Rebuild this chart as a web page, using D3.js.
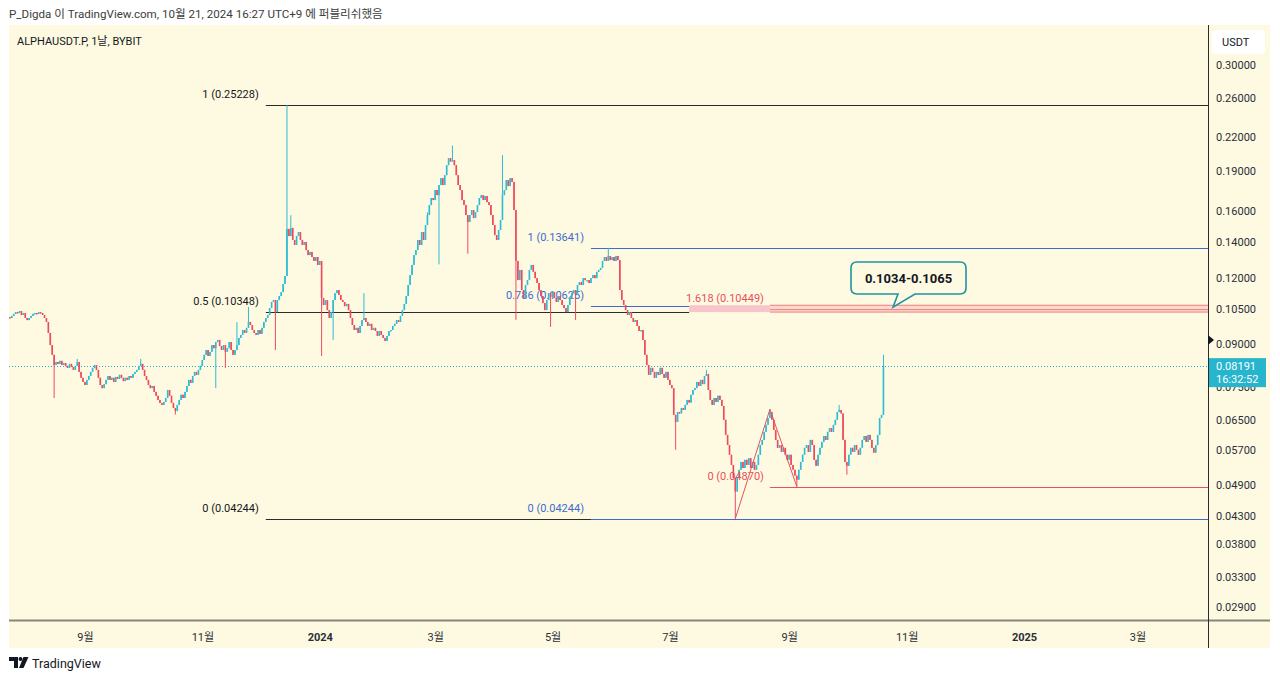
<!DOCTYPE html>
<html>
<head>
<meta charset="utf-8">
<script src="https://cdn.jsdelivr.net/npm/d3@7"></script>
<style>
  body { margin: 0; background: #ffffff; }
  text { font-family: Roboto, "Noto Sans CJK KR", sans-serif; }
</style>
</head>
<body>
<svg id="chart" width="1280" height="681"></svg>
<script>
// daily closes, ALPHAUSDT.P (BYBIT)
var firstOpen = 0.1012;
var jul2023 = [0.1008, 0.1017, 0.1026, 0.1034, 0.1030, 0.1039, 0.1021];
var aug2023 = [0.1030, 0.1008, 0.0999, 0.1008, 0.1017, 0.1026, 0.1030, 0.1026, 0.1034, 0.1030,
               0.1021, 0.1008, 0.0991, 0.0945, 0.0897, 0.0860, 0.0823, 0.0834, 0.0827, 0.0838,
               0.0823, 0.0830, 0.0820, 0.0813, 0.0827, 0.0816, 0.0806, 0.0820, 0.0834, 0.0799, 0.0779];
var sep2023 = [0.0765, 0.0755, 0.0772, 0.0785, 0.0799, 0.0813, 0.0823, 0.0806, 0.0779, 0.0755,
               0.0745, 0.0758, 0.0772, 0.0785, 0.0772, 0.0779, 0.0765, 0.0782, 0.0775, 0.0789,
               0.0779, 0.0768, 0.0779, 0.0772, 0.0785, 0.0779, 0.0792, 0.0799, 0.0806, 0.0820];
var oct2023 = [0.0827, 0.0806, 0.0785, 0.0772, 0.0755, 0.0745, 0.0752, 0.0733, 0.0721, 0.0708,
               0.0699, 0.0693, 0.0702, 0.0714, 0.0739, 0.0721, 0.0699, 0.0684, 0.0675, 0.0693,
               0.0708, 0.0724, 0.0714, 0.0733, 0.0752, 0.0772, 0.0762, 0.0785, 0.0799, 0.0789, 0.0806];
var nov2023 = [0.0820, 0.0841, 0.0860, 0.0878, 0.0856, 0.0871, 0.0897, 0.0885, 0.0909, 0.0917,
               0.0893, 0.0878, 0.0897, 0.0871, 0.0885, 0.0909, 0.0878, 0.0860, 0.0878, 0.0897,
               0.0925, 0.0937, 0.0957, 0.0945, 0.0966, 0.0991, 0.0978, 0.0957, 0.0945, 0.0937];
var dec2023 = [0.0957, 0.0941, 0.0966, 0.0991, 0.1008, 0.1021, 0.1052, 0.1080, 0.1089, 0.1034,
               0.1089, 0.1108, 0.1127, 0.1167, 0.1208, 0.1480, 0.1435, 0.1486, 0.1411, 0.1381,
               0.1435, 0.1460, 0.1411, 0.1381, 0.1399, 0.1351, 0.1322, 0.1340, 0.1311, 0.1289, 0.1311];
var jan2024 = [0.1267, 0.1289, 0.1099, 0.1066, 0.1089, 0.1043, 0.1008, 0.1034, 0.1089, 0.1122,
               0.1137, 0.1113, 0.1089, 0.1080, 0.1061, 0.1071, 0.1043, 0.1008, 0.0978, 0.0957,
               0.0966, 0.0945, 0.0974, 0.0999, 0.1008, 0.0991, 0.0974, 0.0983, 0.0957, 0.0966, 0.0953];
var feb2024 = [0.0933, 0.0953, 0.0937, 0.0925, 0.0913, 0.0933, 0.0953, 0.0957, 0.0974, 0.0983,
               0.0999, 0.0991, 0.1017, 0.1043, 0.1071, 0.1108, 0.1162, 0.1213, 0.1267, 0.1322,
               0.1351, 0.1411, 0.1381, 0.1460, 0.1411, 0.1505, 0.1571, 0.1640, 0.1691];
var mar2024 = [0.1676, 0.1750, 0.1712, 0.1788, 0.1842, 0.1788, 0.1866, 0.1948, 0.2008, 0.1978,
               0.1991, 0.1948, 0.1866, 0.1788, 0.1750, 0.1676, 0.1640, 0.1571, 0.1525, 0.1571,
               0.1605, 0.1551, 0.1592, 0.1640, 0.1691, 0.1712, 0.1676, 0.1705, 0.1661, 0.1640, 0.1571];
var apr2024 = [0.1505, 0.1441, 0.1411, 0.1473, 0.1538, 0.1712, 0.1750, 0.1827, 0.1780, 0.1842,
               0.1812, 0.1605, 0.1289, 0.1187, 0.1240, 0.1137, 0.1099, 0.1162, 0.1187, 0.1240,
               0.1267, 0.1230, 0.1197, 0.1172, 0.1137, 0.1108, 0.1075, 0.1043, 0.1089, 0.1122];
var may2024 = [0.1104, 0.1127, 0.1099, 0.1080, 0.1108, 0.1089, 0.1066, 0.1052, 0.1034, 0.1066,
               0.1099, 0.1122, 0.1137, 0.1113, 0.1162, 0.1177, 0.1162, 0.1197, 0.1187, 0.1187,
               0.1172, 0.1197, 0.1213, 0.1197, 0.1230, 0.1240, 0.1251, 0.1289, 0.1311, 0.1289, 0.1317];
var jun2024 = [0.1294, 0.1311, 0.1289, 0.1317, 0.1294, 0.1137, 0.1089, 0.1066, 0.1043, 0.1021,
               0.1034, 0.1008, 0.0991, 0.0999, 0.0974, 0.0953, 0.0957, 0.0917, 0.0860, 0.0823,
               0.0789, 0.0813, 0.0799, 0.0779, 0.0799, 0.0789, 0.0813, 0.0792, 0.0779, 0.0799];
var jul2024 = [0.0772, 0.0755, 0.0745, 0.0664, 0.0644, 0.0672, 0.0668, 0.0684, 0.0678, 0.0693,
               0.0708, 0.0700, 0.0724, 0.0739, 0.0745, 0.0765, 0.0752, 0.0772, 0.0758, 0.0785,
               0.0792, 0.0739, 0.0708, 0.0693, 0.0714, 0.0702, 0.0721, 0.0708, 0.0690, 0.0650, 0.0609];
var aug2024 = [0.0583, 0.0559, 0.0535, 0.0506, 0.0477, 0.0506, 0.0524, 0.0542, 0.0528, 0.0547,
               0.0535, 0.0551, 0.0528, 0.0542, 0.0524, 0.0535, 0.0559, 0.0583, 0.0596, 0.0617,
               0.0636, 0.0655, 0.0672, 0.0650, 0.0622, 0.0596, 0.0576, 0.0583, 0.0566, 0.0576, 0.0559];
var sep2024 = [0.0547, 0.0559, 0.0535, 0.0524, 0.0511, 0.0502, 0.0524, 0.0542, 0.0559, 0.0576,
               0.0583, 0.0566, 0.0596, 0.0583, 0.0547, 0.0533, 0.0559, 0.0576, 0.0591, 0.0606,
               0.0596, 0.0617, 0.0627, 0.0617, 0.0636, 0.0650, 0.0672, 0.0678, 0.0668, 0.0596];
var oct2024 = [0.0542, 0.0533, 0.0559, 0.0576, 0.0566, 0.0583, 0.0571, 0.0559, 0.0576, 0.0596,
               0.0606, 0.0591, 0.0609, 0.0596, 0.0576, 0.0564, 0.0583, 0.0609, 0.0655, 0.0664, 0.08191];

// long wicks visible on the chart
var wickHighs = [["2023-08-29", 0.0845], ["2023-10-01", 0.0845], ["2023-11-20", 0.0990],
                 ["2023-11-26", 0.1057], ["2023-12-16", 0.25228], ["2023-12-18", 0.1570],
                 ["2024-01-25", 0.1122], ["2024-02-27", 0.1590], ["2024-03-11", 0.2119],
                 ["2024-04-06", 0.2034], ["2024-05-31", 0.13641], ["2024-07-21", 0.0806],
                 ["2024-08-23", 0.06803], ["2024-09-28", 0.0693], ["2024-10-21", 0.0860]];
var wickLows = [["2023-08-17", 0.0714], ["2023-10-19", 0.0665], ["2023-11-09", 0.0745],
                ["2023-11-14", 0.0813], ["2023-12-10", 0.0878], ["2024-01-03", 0.0856],
                ["2024-01-09", 0.0917], ["2024-03-04", 0.1270], ["2024-03-19", 0.1330],
                ["2024-04-13", 0.1000], ["2024-05-01", 0.0970], ["2024-05-14", 0.0999],
                ["2024-07-05", 0.0571], ["2024-08-05", 0.04244], ["2024-09-06", 0.0487],
                ["2024-10-02", 0.0513]];

var yTicks = [0.30, 0.26, 0.22, 0.19, 0.16, 0.14, 0.12, 0.105, 0.09, 0.075, 0.065, 0.057, 0.049, 0.043, 0.038, 0.033, 0.029];
var xTickDates = ["2023-09-01", "2023-11-01", "2024-01-01", "2024-03-01", "2024-05-01",
                  "2024-07-01", "2024-09-01", "2024-11-01", "2025-01-01", "2025-03-01"];
var xTickLabels = ["9월", "11월", "2024", "3월", "5월", "7월", "9월", "11월", "2025", "3월"];

// fib drawings: [label, price, start date, end date or null for the right edge]
var fibBlack = [["1 (0.25228)", 0.25228, "2023-12-05", null],
                ["0.5 (0.10348)", 0.10348, "2023-12-05", "2024-07-12"],
                ["0 (0.04244)", 0.04244, "2023-12-05", "2024-05-22"]];
var fibBlue = [["1 (0.13641)", 0.13641, "2024-05-22", null],
               ["0.786 (0.10625)", 0.10625, "2024-05-22", "2024-07-12"],
               ["0 (0.04244)", 0.04244, "2024-05-22", null]];
var trendPoints = [["2024-08-05", 0.04244], ["2024-08-23", 0.06803], ["2024-09-06", 0.0487]];
var zoneLow = 0.1034, zoneHigh = 0.1065, extLevel = 0.10449;
var lastPrice = 0.08191, lastTime = "16:32:52";

var parse = d3.utcParse("%Y-%m-%d");
var fmtDay = d3.utcFormat("%Y-%m-%d");

var paneLeft = 9, paneRight = 1208, paneTop = 25, paneBottom = 620;
var upColor = "#2cbcd3", downColor = "#ee4a5d";
var blue = "#3d6bd2", red = "#e8505e", ink = "#131722";

var svg = d3.select("#chart");

var x = d3.scaleUtc()
  .domain([parse("2023-09-01"), parse("2025-01-01")])
  .range([83, 1022]);
var y = d3.scaleLog()
  .domain([0.30, 0.029])
  .range([65, 607]);

// candles
var closes = [].concat(jul2023, aug2023, sep2023, oct2023, nov2023, dec2023, jan2024, feb2024,
  mar2024, apr2024, may2024, jun2024, jul2024, aug2024, sep2024, oct2024);
var start = parse("2023-07-25");
var candles = closes.map(function(c, i) {
  var open = i === 0 ? firstOpen : closes[i - 1];
  return { date: d3.utcDay.offset(start, i), open: open, close: c,
           high: Math.max(open, c), low: Math.min(open, c) };
});
var byDay = {};
candles.forEach(function(d) { byDay[fmtDay(d.date)] = d; });
wickHighs.forEach(function(w) { if (byDay[w[0]]) byDay[w[0]].high = w[1]; });
wickLows.forEach(function(w) { if (byDay[w[0]]) byDay[w[0]].low = w[1]; });

// page header
svg.append("text").attr("x", 9).attr("y", 18)
  .attr("font-size", "11.6px").attr("fill", "#3c3c3c")
  .text("P_Digda 이 TradingView.com, 10월 21, 2024 16:27 UTC+9 에 퍼블리쉬했음");

// chart background
svg.append("rect").attr("x", 9).attr("y", 25).attr("width", 1261).attr("height", 623)
  .attr("fill", "#fefae1");

svg.append("text").attr("x", 17).attr("y", 45)
  .attr("font-size", "11px").attr("fill", ink)
  .text("ALPHAUSDT.P, 1날, BYBIT");

svg.append("defs").append("clipPath").attr("id", "pane")
  .append("rect").attr("x", paneLeft).attr("y", paneTop)
  .attr("width", paneRight - paneLeft).attr("height", paneBottom - paneTop);

var plot = svg.append("g").attr("clip-path", "url(#pane)");

// last price dotted line
plot.append("line")
  .attr("x1", paneLeft).attr("x2", paneRight)
  .attr("y1", Math.round(y(lastPrice)) + 0.5).attr("y2", Math.round(y(lastPrice)) + 0.5)
  .attr("stroke", "#2ba9c2").attr("stroke-width", 1).attr("stroke-dasharray", "1,2");

// black fib retracement
fibBlack.forEach(function(f) {
  var yy = Math.round(y(f[1])) + 0.5;
  var x1 = x(parse(f[2])), x2 = f[3] ? x(parse(f[3])) : paneRight;
  plot.append("line").attr("x1", x1).attr("x2", x2).attr("y1", yy).attr("y2", yy)
    .attr("stroke", "#2b2b2b").attr("stroke-width", 1);
  plot.append("text").attr("x", x1 - 7).attr("y", yy - 8)
    .attr("text-anchor", "end").attr("font-size", "11px").attr("fill", ink).text(f[0]);
});

// pink target zone
var zStart = x(parse("2024-07-12")), zMid = x(parse("2024-08-23"));
plot.append("rect").attr("x", zStart).attr("width", zMid - zStart)
  .attr("y", y(zoneHigh)).attr("height", y(zoneLow) - y(zoneHigh))
  .attr("fill", "#f8c6ca");
plot.append("rect").attr("x", zMid).attr("width", paneRight - zMid)
  .attr("y", y(zoneHigh)).attr("height", y(zoneLow) - y(zoneHigh))
  .attr("fill", "rgba(242,80,95,0.18)");
[zoneHigh, extLevel, zoneLow].forEach(function(v) {
  plot.append("line").attr("x1", zMid).attr("x2", paneRight)
    .attr("y1", y(v)).attr("y2", y(v))
    .attr("stroke", "#f07a86").attr("stroke-width", 1);
});
plot.append("text").attr("x", zMid - 6).attr("y", y(extLevel) - 8)
  .attr("text-anchor", "end").attr("font-size", "11px").attr("fill", red)
  .text("1.618 (0.10449)");

// blue fib retracement
fibBlue.forEach(function(f) {
  var yy = Math.round(y(f[1])) + 0.5;
  var x1 = x(parse(f[2])), x2 = f[3] ? x(parse(f[3])) : paneRight;
  plot.append("line").attr("x1", x1).attr("x2", x2).attr("y1", yy).attr("y2", yy)
    .attr("stroke", blue).attr("stroke-width", 1);
  plot.append("text").attr("x", x1 - 7).attr("y", yy - 8)
    .attr("text-anchor", "end").attr("font-size", "11px").attr("fill", blue).text(f[0]);
});

// red trend-based extension
var p2x = x(parse(trendPoints[1][0]));
plot.append("line").attr("x1", p2x).attr("x2", paneRight)
  .attr("y1", Math.round(y(trendPoints[2][1])) + 0.5).attr("y2", Math.round(y(trendPoints[2][1])) + 0.5)
  .attr("stroke", red).attr("stroke-width", 1);

// candles
var bodyW = 1.6;
var cg = plot.append("g");
cg.selectAll(".wick").data(candles).enter().append("line")
  .attr("class", "wick")
  .attr("x1", function(d) { return x(d.date); })
  .attr("x2", function(d) { return x(d.date); })
  .attr("y1", function(d) { return y(d.high); })
  .attr("y2", function(d) { return y(d.low); })
  .attr("stroke", function(d) { return d.close >= d.open ? upColor : downColor; })
  .attr("stroke-width", 1);
cg.selectAll(".body").data(candles).enter().append("rect")
  .attr("class", "body")
  .attr("x", function(d) { return x(d.date) - bodyW / 2; })
  .attr("width", bodyW)
  .attr("y", function(d) { return y(Math.max(d.open, d.close)); })
  .attr("height", function(d) { return Math.max(1.5, y(Math.min(d.open, d.close)) - y(Math.max(d.open, d.close))); })
  .attr("fill", function(d) { return d.close >= d.open ? upColor : downColor; });

// trend lines over the candles
plot.append("path")
  .datum(trendPoints)
  .attr("d", d3.line()
    .x(function(d) { return x(parse(d[0])); })
    .y(function(d) { return y(d[1]); }))
  .attr("fill", "none").attr("stroke", red).attr("stroke-width", 1);
plot.append("text").attr("x", p2x - 6).attr("y", y(trendPoints[2][1]) - 7)
  .attr("text-anchor", "end").attr("font-size", "11px").attr("fill", red)
  .text("0 (0.04870)");

// callout
var tipX = 893, tipY = y(zoneHigh) + 2;
var bx = 851, by = 262, bw = 115, bh = 32, r = 6;
var callout = "M" + (bx + r) + "," + by +
  " H" + (bx + bw - r) + " Q" + (bx + bw) + "," + by + " " + (bx + bw) + "," + (by + r) +
  " V" + (by + bh - r) + " Q" + (bx + bw) + "," + (by + bh) + " " + (bx + bw - r) + "," + (by + bh) +
  " H915 L" + tipX + "," + tipY + " L898," + (by + bh) +
  " H" + (bx + r) + " Q" + bx + "," + (by + bh) + " " + bx + "," + (by + bh - r) +
  " V" + (by + r) + " Q" + bx + "," + by + " " + (bx + r) + "," + by + " Z";
svg.append("path").attr("d", callout)
  .attr("fill", "#fefae1").attr("stroke", "#1f93a4").attr("stroke-width", 1.6);
svg.append("text").attr("x", bx + bw / 2).attr("y", by + 21)
  .attr("text-anchor", "middle").attr("font-size", "13px").attr("font-weight", "bold")
  .attr("fill", ink).text("0.1034-0.1065");

// axes frame
svg.append("line").attr("x1", 9).attr("x2", 1270).attr("y1", 620.5).attr("y2", 620.5)
  .attr("stroke", "#85857a").attr("stroke-width", 2);
svg.append("line").attr("x1", paneRight + 0.5).attr("x2", paneRight + 0.5).attr("y1", 25).attr("y2", 648)
  .attr("stroke", "#2b2b2b").attr("stroke-width", 1);

// price axis
var yAxis = svg.append("g")
  .attr("transform", "translate(" + paneRight + ",0)")
  .call(d3.axisRight(y).tickValues(yTicks).tickFormat(d3.format(".5f")).tickSize(0).tickPadding(8));
yAxis.select(".domain").remove();
yAxis.selectAll("text").attr("font-size", "11px").attr("fill", "#2a2e39")
  .attr("font-family", "Roboto, sans-serif");

// time axis
var xAxis = svg.append("g")
  .attr("transform", "translate(2," + paneBottom + ")")
  .call(d3.axisBottom(x).tickValues(xTickDates.map(parse))
    .tickFormat(function(d, i) { return xTickLabels[i]; }).tickSize(0).tickPadding(13));
xAxis.select(".domain").remove();
xAxis.selectAll("text").attr("font-size", "11px").attr("fill", "#2a2e39")
  .attr("font-family", "Roboto, \"Noto Sans CJK KR\", sans-serif")
  .attr("font-weight", function(d, i) { return xTickLabels[i].length === 4 ? "bold" : "normal"; });

// currency box
svg.append("rect").attr("x", 1212).attr("y", 30).attr("width", 53).attr("height", 24)
  .attr("rx", 4).attr("fill", "#ffffff");
svg.append("text").attr("x", 1222).attr("y", 46).attr("font-size", "11px").attr("fill", ink).text("USDT");

// alert marker
var my = y(0.0917);
svg.append("path").attr("d", "M" + paneRight + "," + (my - 5) + " L" + (paneRight + 6) + "," + my + " L" + paneRight + "," + (my + 5) + " Z")
  .attr("fill", "#131722");

// last price label
var ly = y(lastPrice);
svg.append("rect").attr("x", 1209).attr("y", ly - 8).attr("width", 57).attr("height", 29)
  .attr("fill", "#27b4cd");
svg.append("text").attr("x", 1216).attr("y", ly + 4).attr("font-size", "11px").attr("fill", "#ffffff")
  .text(d3.format(".5f")(lastPrice));
svg.append("text").attr("x", 1216).attr("y", ly + 17).attr("font-size", "11px").attr("fill", "#ffffff")
  .text(lastTime);

// TradingView logo
var logo = svg.append("g").attr("fill", "#131722");
logo.append("path").attr("d", "M9,657 h9 v11 h-4 v-7 h-5 z");
logo.append("circle").attr("cx", 20.5).attr("cy", 659).attr("r", 2);
logo.append("path").attr("d", "M23.5,657 h5 l-5,11 h-4.5 z");
svg.append("text").attr("x", 32).attr("y", 668).attr("font-size", "12.5px").attr("fill", ink)
  .text("TradingView");
</script>
</body>
</html>
